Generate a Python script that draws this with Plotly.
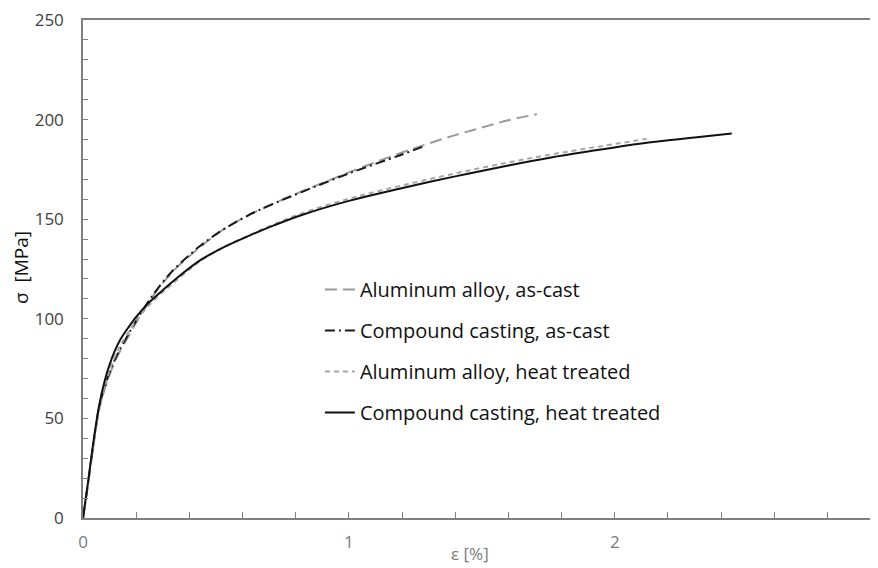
import plotly.graph_objects as go

# Aluminum alloy, as-cast
al_cast_x = [0, 0.02, 0.04, 0.06, 0.08, 0.10, 0.12, 0.14, 0.17, 0.20, 0.24, 0.28, 0.34, 0.44, 0.53, 0.63, 0.72, 0.82, 1.0, 1.19, 1.3, 1.4, 1.5, 1.6, 1.707]
al_cast_y = [0, 18, 37, 54, 64, 72, 78.5, 84, 91, 98, 107, 114.5, 124, 136, 145, 152.5, 158, 163.8, 173.5, 183, 188, 192.2, 196, 199.7, 202.7]
# Compound casting, as-cast
cc_cast_x = [0, 0.02, 0.04, 0.06, 0.08, 0.10, 0.12, 0.14, 0.17, 0.20, 0.24, 0.28, 0.34, 0.44, 0.53, 0.63, 0.72, 0.82, 1.0, 1.19, 1.29]
cc_cast_y = [0, 18.5, 38, 55, 65, 73, 79.5, 85, 92, 99, 107.5, 115, 124.5, 136.5, 145, 152.5, 158, 163.5, 173, 182, 187]
# Aluminum alloy, heat treated
al_ht_x = [0, 0.02, 0.04, 0.06, 0.08, 0.10, 0.12, 0.14, 0.17, 0.20, 0.24, 0.28, 0.34, 0.44, 0.53, 0.63, 0.72, 0.82, 1.0, 1.19, 1.4, 1.6, 1.76, 1.9, 2.12]
al_ht_y = [0, 18, 37, 54, 65, 74, 81, 86.5, 93, 99, 105.5, 111, 118, 128.8, 136, 142.3, 147.6, 152.8, 160.3, 166.6, 173, 178.5, 182.5, 185.6, 190.3]
# Compound casting, heat treated
cc_ht_x = [0, 0.02, 0.04, 0.06, 0.08, 0.10, 0.12, 0.14, 0.17, 0.20, 0.24, 0.28, 0.34, 0.44, 0.53, 0.63, 0.72, 0.82, 1.0, 1.19, 1.4, 1.6, 1.76, 1.9, 2.1, 2.3, 2.44]
cc_ht_y = [0, 19, 39, 56, 68, 77, 84, 89.5, 95.5, 101, 107, 112, 119, 129.3, 136, 142, 147, 152, 159.2, 165.3, 171.5, 177, 181, 184, 188, 191, 193]

names = ["Aluminum alloy, as-cast", "Compound casting, as-cast",
         "Aluminum alloy, heat treated", "Compound casting, heat treated"]

x_ticks = [0, 1, 2]
y_ticks = [0, 50, 100, 150, 200, 250]

fig = go.Figure()
series = [
    (al_cast_x, al_cast_y, names[0], "#9a9a9a", "12px,6px"),
    (cc_cast_x, cc_cast_y, names[1], "#1a1a1a", "10px,4px,2px,4px"),
    (al_ht_x, al_ht_y, names[2], "#a6a6a6", "5px,4px"),
    (cc_ht_x, cc_ht_y, names[3], "#111111", "solid"),
]
for i, (xs, ys, nm, col, dash) in enumerate(series):
    fig.add_trace(go.Scatter(
        x=xs, y=ys, mode="lines", name=nm, legendgroup=f"g{i}",
        line=dict(color=col, width=2, dash=dash, shape="spline", smoothing=1.0),
    ))

font_family = "'Open Sans', sans-serif"
fig.update_layout(
    width=870, height=560,
    margin=dict(l=75, r=0, t=8, b=50),
    paper_bgcolor="white", plot_bgcolor="white",
    font=dict(family=font_family, color="#404040"),
    showlegend=True,
    legend=dict(
        x=0.298, y=0.498, xanchor="left", yanchor="top",
        font=dict(size=20, color="#111111", family=font_family),
        bgcolor="rgba(0,0,0,0)", traceorder="grouped", tracegroupgap=12,
        itemwidth=30,
    ),
    xaxis=dict(
        range=[0, 2.99], tickvals=x_ticks, ticktext=[str(v) for v in x_ticks],
        showgrid=False, zeroline=False, showline=True, linecolor="#7f7f7f", linewidth=1.5,
        mirror=True, ticks="inside", ticklen=6, tickcolor="#7f7f7f",
        minor=dict(dtick=0.2, tick0=0, ticks="inside", ticklen=6, tickcolor="#7f7f7f"),
        tickfont=dict(size=17, color="#7a7a7a"), ticklabelstandoff=8,
        ticklabeloverflow="allow",
    ),
    yaxis=dict(
        range=[0, 250], tickvals=y_ticks,
        showgrid=False, zeroline=False, showline=True, linecolor="#7f7f7f", linewidth=1.5,
        ticks="inside", ticklen=5, tickcolor="#7f7f7f",
        minor=dict(dtick=10, tick0=0, ticks="inside", ticklen=5, tickcolor="#7f7f7f"),
        tickfont=dict(size=17, color="#404040"), ticklabelstandoff=14,
        ticklabeloverflow="allow",
    ),
    annotations=[
        dict(text="ε [%]", xref="paper", yref="paper", x=0.487, y=-0.072,
             xanchor="center", yanchor="middle", showarrow=False,
             font=dict(size=17, color="#7a7a7a", family=font_family)),
        dict(text="σ  [MPa]", xref="paper", yref="paper", x=-0.078, y=0.504,
             xanchor="center", yanchor="middle", showarrow=False, textangle=-90,
             font=dict(size=19, color="#111111", family=font_family)),
    ],
)

fig.write_html("out.html")
